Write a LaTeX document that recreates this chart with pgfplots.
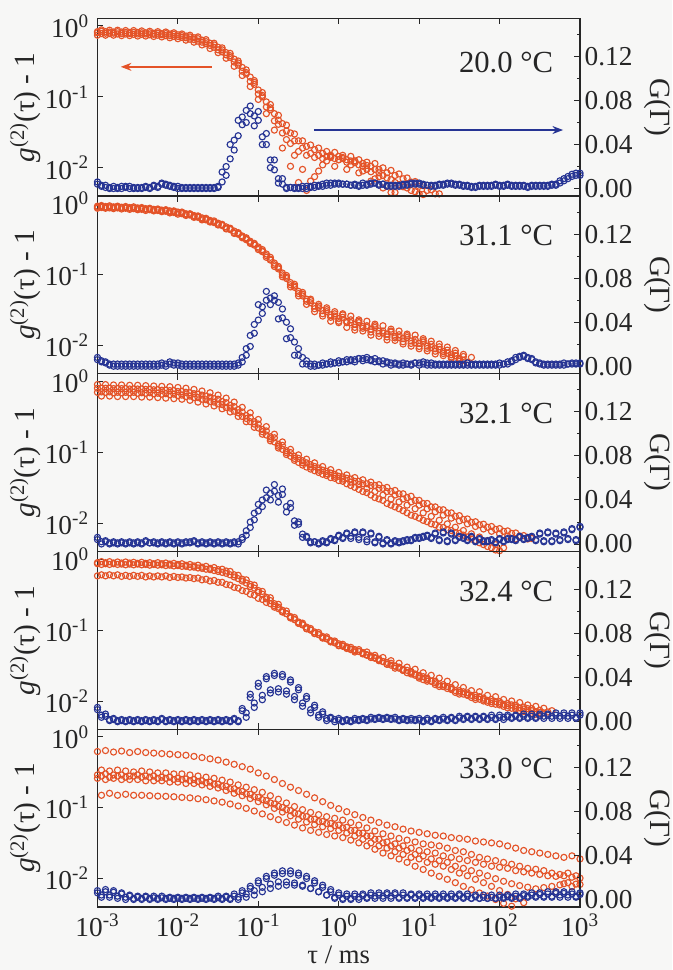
\documentclass[border=0pt]{standalone}
\usepackage{fontspec}
\setmainfont{Liberation Serif}
\usepackage{pgfplots}
\usepackage{pgfplotstable}
\pgfplotsset{compat=1.18}
\usetikzlibrary{arrows.meta}
\definecolor{org}{RGB}{228,83,40}
\definecolor{nvy}{RGB}{38,52,148}
\definecolor{bgc}{RGB}{247,247,246}

\pgfplotstableread{
x xh a b c d p q
1e-3 1.122e-3 0.83 0.88 0.74 0.78 0.004 0.002
1.259e-3 1.413e-3 0.83 0.87 0.74 0.78 0.001 0.000
1.585e-3 1.778e-3 0.82 0.87 0.74 0.77 0.000 0.000
1.995e-3 2.239e-3 0.82 0.86 0.73 0.77 0.000 0.001
2.512e-3 2.818e-3 0.81 0.86 0.73 0.76 0.000 0.000
3.162e-3 3.548e-3 0.81 0.85 0.72 0.76 0.000 0.000
3.981e-3 4.467e-3 0.80 0.84 0.72 0.75 0.001 0.000
5.012e-3 5.623e-3 0.79 0.83 0.71 0.74 0.002 0.001
6.310e-3 7.079e-3 0.78 0.82 0.70 0.73 0.004 0.003
7.943e-3 8.913e-3 0.77 0.80 0.68 0.71 0.002 0.001
1e-2 1.122e-2 0.75 0.77 0.66 0.69 0.000 0.000
1.259e-2 1.413e-2 0.72 0.74 0.63 0.65 0.000 0.000
1.585e-2 1.778e-2 0.68 0.70 0.59 0.61 0.000 0.000
1.995e-2 2.239e-2 0.63 0.64 0.54 0.56 0.000 0.000
2.512e-2 2.818e-2 0.57 0.57 0.48 0.50 0.000 0.000
3.162e-2 3.548e-2 0.50 0.49 0.42 0.43 0.002 0.006
3.981e-2 4.467e-2 0.42 0.41 0.35 0.36 0.020 0.027
5.012e-2 5.623e-2 0.34 0.32 0.27 0.28 0.044 0.048
6.310e-2 7.079e-2 0.26 0.24 0.20 0.21 0.065 0.060
7.943e-2 8.913e-2 0.19 0.17 0.14 0.15 0.075 0.057
1e-1 1.122e-1 0.125 0.115 0.092 0.10 0.070 0.040
1.259e-1 1.413e-1 0.085 0.078 0.058 0.066 0.050 0.019
1.585e-1 1.778e-1 0.058 0.055 0.034 0.041 0.026 0.005
1.995e-1 2.239e-1 0.042 0.040 0.019 0.025 0.009 0.000
2.512e-1 2.818e-1 0.031 0.030 0.0105 0.015 0.001 0.000
3.162e-1 3.548e-1 0.024 0.024 0.0062 0.0095 0.000 0.000
3.981e-1 4.467e-1 0.020 0.021 0.0048 0.0065 0.000 0.001
5.012e-1 5.623e-1 0.018 0.019 0.0075 0.009 0.001 0.002
6.310e-1 7.079e-1 0.016 0.017 0.011 0.0125 0.002 0.003
7.943e-1 8.913e-1 0.015 0.0165 0.014 0.0105 0.003 0.004
1 1.122 0.0145 0.015 0.013 0.0135 0.004 0.004
1.259 1.413 0.013 0.0145 0.0095 0.011 0.004 0.003
1.585 1.778 0.0125 0.013 0.0125 0.0085 0.003 0.002
1.995 2.239 0.0115 0.012 0.009 0.0095 0.003 0.003
2.512 2.818 0.0105 0.0115 0.0065 0.007 0.004 0.005
3.162 3.548 0.0095 0.010 0.0075 0.0052 0.003 0.004
3.981 4.467 0.0085 0.0092 0.0055 0.0045 0.002 0.002
5.012 5.623 0.0078 0.0082 0.0045 nan 0.002 0.002
6.310 7.079 0.0070 0.0072 nan nan 0.003 0.003
7.943 8.913 0.0063 0.0064 nan nan 0.004 0.004
1e1 1.122e1 0.0055 0.0056 nan nan 0.005 0.003
1.259e1 1.413e1 0.0048 0.0049 nan nan 0.003 0.002
1.585e1 1.778e1 0.0043 0.0043 nan nan 0.002 0.003
1.995e1 2.239e1 nan nan nan nan 0.003 0.004
2.512e1 2.818e1 nan nan nan nan 0.004 0.003
3.162e1 3.548e1 nan nan nan nan 0.003 0.002
3.981e1 4.467e1 nan nan nan nan 0.002 0.001
5.012e1 5.623e1 nan nan nan nan 0.001 0.002
6.310e1 7.079e1 nan nan nan nan 0.002 0.002
7.943e1 8.913e1 nan nan nan nan 0.002 0.003
1e2 1.122e2 nan nan nan nan 0.002 0.002
1.259e2 1.413e2 nan nan nan nan 0.003 0.002
1.585e2 1.778e2 nan nan nan nan 0.002 0.002
1.995e2 2.239e2 nan nan nan nan 0.002 0.001
2.512e2 2.818e2 nan nan nan nan 0.002 0.002
3.162e2 3.548e2 nan nan nan nan 0.002 0.002
3.981e2 4.467e2 nan nan nan nan 0.002 0.003
5.012e2 5.623e2 nan nan nan nan 0.003 0.005
6.310e2 7.079e2 nan nan nan nan 0.007 0.009
7.943e2 8.913e2 nan nan nan nan 0.011 0.012
1e3 nan nan nan nan nan 0.012 nan
}\tA

\pgfplotstableread{
x xh e f r s
1e-3 1.122e-3 0.80 0.84 0.006 0.003
1.259e-3 1.413e-3 0.79 0.82 0.003 0.001
1.585e-3 1.778e-3 0.79 0.83 0.002 0.001
1.995e-3 2.239e-3 0.78 0.81 0.002 0.002
2.512e-3 2.818e-3 0.78 0.81 0.002 0.001
3.162e-3 3.548e-3 0.77 0.80 0.001 0.001
3.981e-3 4.467e-3 0.77 0.80 0.002 0.001
5.012e-3 5.623e-3 0.76 0.79 0.003 0.002
6.310e-3 7.079e-3 0.75 0.78 0.005 0.004
7.943e-3 8.913e-3 0.73 0.76 0.003 0.002
1e-2 1.122e-2 0.71 0.73 0.002 0.001
1.259e-2 1.413e-2 0.68 0.70 0.001 0.001
1.585e-2 1.778e-2 0.64 0.66 0.001 0.001
1.995e-2 2.239e-2 0.59 0.60 0.001 0.001
2.512e-2 2.818e-2 0.53 0.54 0.001 0.001
3.162e-2 3.548e-2 0.46 0.46 0.001 0.015
3.981e-2 4.467e-2 0.39 0.38 0.012 0.040
5.012e-2 5.623e-2 0.31 0.30 0.035 0.062
6.310e-2 7.079e-2 0.23 0.22 0.058 0.071
7.943e-2 8.913e-2 0.165 0.16 0.068 0.066
1e-1 1.122e-1 0.11 0.105 0.062 0.047
1.259e-1 1.413e-1 0.072 0.070 0.040 0.026
1.585e-1 1.778e-1 0.046 0.047 0.017 0.009
1.995e-1 2.239e-1 0.031 0.033 0.004 0.001
2.512e-1 2.818e-1 0.022 0.024 0.001 0.001
3.162e-1 3.548e-1 0.017 0.019 0.001 0.002
3.981e-1 4.467e-1 0.015 0.016 0.002 0.002
5.012e-1 5.623e-1 0.014 0.015 0.003 0.003
6.310e-1 7.079e-1 0.0135 0.0145 0.004 0.005
7.943e-1 8.913e-1 0.0145 0.0135 0.005 0.005
1 1.122 0.013 0.014 0.005 0.004
1.259 1.413 0.012 0.0125 0.004 0.003
1.585 1.778 0.0118 0.011 0.004 0.003
1.995 2.239 0.0105 0.0108 0.005 0.004
2.512 2.818 0.0088 0.0095 0.005 0.005
3.162 3.548 0.0085 0.0078 0.004 0.004
3.981 4.467 0.0072 0.0068 0.003 0.003
5.012 5.623 0.0062 0.0058 0.003 0.003
6.310 7.079 0.0054 0.0052 0.004 0.004
7.943 8.913 0.0048 0.0046 0.005 0.005
1e1 1.122e1 0.0043 0.0042 0.004 0.004
1.259e1 1.413e1 nan nan 0.003 0.003
1.585e1 1.778e1 nan nan 0.003 0.004
1.995e1 2.239e1 nan nan 0.004 0.005
2.512e1 2.818e1 nan nan 0.005 0.004
3.162e1 3.548e1 nan nan 0.004 0.003
3.981e1 4.467e1 nan nan 0.003 0.002
5.012e1 5.623e1 nan nan 0.002 0.003
6.310e1 7.079e1 nan nan 0.003 0.003
7.943e1 8.913e1 nan nan 0.003 0.004
1e2 1.122e2 nan nan 0.003 0.003
1.259e2 1.413e2 nan nan 0.004 0.003
1.585e2 1.778e2 nan nan 0.003 0.003
1.995e2 2.239e2 nan nan 0.003 0.002
2.512e2 2.818e2 nan nan 0.003 0.003
3.162e2 3.548e2 nan nan 0.003 0.003
3.981e2 4.467e2 nan nan 0.003 0.004
5.012e2 5.623e2 nan nan 0.004 0.007
6.310e2 7.079e2 nan nan 0.009 0.011
7.943e2 8.913e2 nan nan 0.013 0.014
1e3 nan nan nan 0.014 nan
}\tAx

\pgfplotstableread{
x xh a b c d p q
1e-3 1.122e-3 0.92 0.88 0.86 0.94 0.006 0.004
1.259e-3 1.413e-3 0.91 0.87 0.86 0.93 0.003 0.001
1.585e-3 1.778e-3 0.90 0.87 0.85 0.92 0.000 0.000
1.995e-3 2.239e-3 0.89 0.86 0.84 0.91 0.000 0.000
2.512e-3 2.818e-3 0.88 0.85 0.83 0.90 0.000 0.000
3.162e-3 3.548e-3 0.87 0.83 0.82 0.88 0.000 0.000
3.981e-3 4.467e-3 0.85 0.82 0.80 0.86 0.000 0.000
5.012e-3 5.623e-3 0.83 0.80 0.79 0.84 0.000 0.000
6.310e-3 7.079e-3 0.81 0.78 0.77 0.82 0.001 0.000
7.943e-3 8.913e-3 0.79 0.75 0.74 0.79 0.002 0.001
1e-2 1.122e-2 0.76 0.72 0.71 0.76 0.001 0.000
1.259e-2 1.413e-2 0.72 0.69 0.68 0.72 0.000 0.000
1.585e-2 1.778e-2 0.68 0.64 0.64 0.67 0.000 0.000
1.995e-2 2.239e-2 0.63 0.59 0.59 0.62 0.000 0.000
2.512e-2 2.818e-2 0.58 0.54 0.55 0.57 0.000 0.000
3.162e-2 3.548e-2 0.53 0.49 0.50 0.51 0.000 0.000
3.981e-2 4.467e-2 0.47 0.43 0.44 0.45 0.000 0.000
5.012e-2 5.623e-2 0.41 0.37 0.38 0.39 0.000 0.003
6.310e-2 7.079e-2 0.35 0.31 0.33 0.33 0.008 0.016
7.943e-2 8.913e-2 0.295 0.26 0.275 0.275 0.028 0.038
1e-1 1.122e-1 0.245 0.21 0.225 0.225 0.056 0.054
1.259e-1 1.413e-1 0.195 0.16 0.175 0.175 0.068 0.056
1.585e-1 1.778e-1 0.145 0.12 0.13 0.13 0.060 0.043
1.995e-1 2.239e-1 0.105 0.088 0.093 0.097 0.044 0.025
2.512e-1 2.818e-1 0.077 0.066 0.067 0.073 0.026 0.010
3.162e-1 3.548e-1 0.058 0.050 0.050 0.056 0.010 0.002
3.981e-1 4.467e-1 0.045 0.040 0.038 0.045 0.002 0.000
5.012e-1 5.623e-1 0.036 0.034 0.030 0.038 0.000 0.001
6.310e-1 7.079e-1 0.031 0.030 0.026 0.034 0.001 0.002
7.943e-1 8.913e-1 0.027 0.026 0.022 0.030 0.002 0.003
1 1.122 0.024 0.025 0.021 0.028 0.003 0.004
1.259 1.413 0.022 0.021 0.018 0.026 0.004 0.006
1.585 1.778 0.020 0.021 0.0165 0.023 0.004 0.007
1.995 2.239 0.0185 0.018 0.016 0.022 0.005 0.006
2.512 2.818 0.017 0.018 0.014 0.020 0.005 0.004
3.162 3.548 0.016 0.015 0.0135 0.019 0.004 0.002
3.981 4.467 0.0145 0.0155 0.012 0.017 0.003 0.001
5.012 5.623 0.0135 0.013 0.0118 0.016 0.002 0.001
6.310 7.079 0.0125 0.013 0.0105 0.0145 0.001 0.002
7.943 8.913 0.0116 0.011 0.0098 0.014 0.001 0.003
1e1 1.122e1 0.0107 0.0112 0.009 0.0125 0.001 0.002
1.259e1 1.413e1 0.0098 0.0094 0.0084 0.0115 0.001 0.001
1.585e1 1.778e1 0.009 0.0088 0.0076 0.0105 0.001 0.001
1.995e1 2.239e1 0.0082 0.0078 0.0072 0.0095 0.001 0.001
2.512e1 2.818e1 0.0074 0.0072 0.0066 0.0085 0.001 0.001
3.162e1 3.548e1 0.0066 0.0062 0.006 0.0075 0.001 0.001
3.981e1 4.467e1 0.0058 nan nan 0.0068 0.001 0.001
5.012e1 5.623e1 nan nan nan nan 0.001 0.001
6.310e1 7.079e1 nan nan nan nan 0.001 0.001
7.943e1 8.913e1 nan nan nan nan 0.001 0.001
1e2 1.122e2 nan nan nan nan 0.001 0.002
1.259e2 1.413e2 nan nan nan nan 0.002 0.004
1.585e2 1.778e2 nan nan nan nan 0.006 0.008
1.995e2 2.239e2 nan nan nan nan 0.009 0.007
2.512e2 2.818e2 nan nan nan nan 0.006 0.003
3.162e2 3.548e2 nan nan nan nan 0.002 0.001
3.981e2 4.467e2 nan nan nan nan 0.001 0.001
5.012e2 5.623e2 nan nan nan nan 0.001 0.001
6.310e2 7.079e2 nan nan nan nan 0.001 0.002
7.943e2 8.913e2 nan nan nan nan 0.002 0.002
1e3 nan nan nan nan nan 0.002 nan
}\tB

\pgfplotstableread{
x xh e f r s
1e-3 1.122e-3 0.89 0.91 0.008 0.005
1.259e-3 1.413e-3 0.88 0.90 0.004 0.002
1.585e-3 1.778e-3 0.88 0.89 0.002 0.002
1.995e-3 2.239e-3 0.87 0.88 0.002 0.002
2.512e-3 2.818e-3 0.86 0.87 0.002 0.002
3.162e-3 3.548e-3 0.85 0.86 0.002 0.002
3.981e-3 4.467e-3 0.83 0.84 0.002 0.002
5.012e-3 5.623e-3 0.81 0.82 0.002 0.002
6.310e-3 7.079e-3 0.79 0.80 0.003 0.002
7.943e-3 8.913e-3 0.77 0.77 0.004 0.003
1e-2 1.122e-2 0.74 0.74 0.003 0.002
1.259e-2 1.413e-2 0.70 0.70 0.002 0.002
1.585e-2 1.778e-2 0.66 0.66 0.002 0.002
1.995e-2 2.239e-2 0.61 0.60 0.002 0.002
2.512e-2 2.818e-2 0.56 0.55 0.002 0.002
3.162e-2 3.548e-2 0.51 0.50 0.002 0.002
3.981e-2 4.467e-2 0.45 0.44 0.002 0.002
5.012e-2 5.623e-2 0.39 0.38 0.002 0.001
6.310e-2 7.079e-2 0.34 0.32 0.004 0.010
7.943e-2 8.913e-2 0.285 0.27 0.018 0.030
1e-1 1.122e-1 0.235 0.215 0.042 0.048
1.259e-1 1.413e-1 0.185 0.165 0.060 0.062
1.585e-1 1.778e-1 0.137 0.125 0.064 0.058
1.995e-1 2.239e-1 0.099 0.092 0.052 0.040
2.512e-1 2.818e-1 0.072 0.069 0.034 0.022
3.162e-1 3.548e-1 0.054 0.053 0.016 0.008
3.981e-1 4.467e-1 0.042 0.043 0.005 0.002
5.012e-1 5.623e-1 0.033 0.036 0.002 0.001
6.310e-1 7.079e-1 0.028 0.032 0.003 0.002
7.943e-1 8.913e-1 0.025 0.028 0.004 0.003
1 1.122 0.022 0.027 0.005 0.004
1.259 1.413 0.021 0.023 0.006 0.005
1.585 1.778 0.018 0.022 0.006 0.007
1.995 2.239 0.0175 0.019 0.007 0.008
2.512 2.818 0.0155 0.019 0.006 0.007
3.162 3.548 0.0148 0.016 0.005 0.005
3.981 4.467 0.0132 0.016 0.004 0.003
5.012 5.623 0.0128 0.0142 0.003 0.002
6.310 7.079 0.0113 0.0138 0.003 0.002
7.943 8.913 0.0107 0.0122 0.002 0.003
1e1 1.122e1 0.0097 0.0118 0.003 0.004
1.259e1 1.413e1 0.0091 0.0104 0.003 0.003
1.585e1 1.778e1 0.0083 0.0096 0.002 0.002
1.995e1 2.239e1 0.0077 0.0086 0.002 0.002
2.512e1 2.818e1 0.0069 0.0078 0.002 0.002
3.162e1 3.548e1 0.0063 0.0070 0.002 0.002
3.981e1 4.467e1 nan nan 0.003 0.002
5.012e1 5.623e1 nan nan 0.002 0.002
6.310e1 7.079e1 nan nan 0.002 0.002
7.943e1 8.913e1 nan nan 0.002 0.002
1e2 1.122e2 nan nan 0.003 0.002
1.259e2 1.413e2 nan nan 0.004 0.005
1.585e2 1.778e2 nan nan 0.008 0.009
1.995e2 2.239e2 nan nan 0.010 0.008
2.512e2 2.818e2 nan nan 0.007 0.004
3.162e2 3.548e2 nan nan 0.003 0.002
3.981e2 4.467e2 nan nan 0.002 0.002
5.012e2 5.623e2 nan nan 0.002 0.002
6.310e2 7.079e2 nan nan 0.003 0.002
7.943e2 8.913e2 nan nan 0.003 0.003
1e3 nan nan nan 0.003 nan
}\tBx

\pgfplotstableread{
x xh a b c d p q
1e-3 1.122e-3 0.90 0.80 0.70 0.62 0.006 0.002
1.259e-3 1.413e-3 0.90 0.80 0.70 0.62 0.003 0.001
1.585e-3 1.778e-3 0.89 0.79 0.69 0.61 0.001 0.001
1.995e-3 2.239e-3 0.89 0.79 0.69 0.61 0.001 0.001
2.512e-3 2.818e-3 0.88 0.78 0.69 0.61 0.001 0.001
3.162e-3 3.548e-3 0.88 0.78 0.68 0.60 0.001 0.001
3.981e-3 4.467e-3 0.87 0.77 0.68 0.60 0.002 0.001
5.012e-3 5.623e-3 0.86 0.76 0.67 0.59 0.001 0.001
6.310e-3 7.079e-3 0.85 0.75 0.66 0.58 0.001 0.001
7.943e-3 8.913e-3 0.84 0.74 0.65 0.57 0.001 0.001
1e-2 1.122e-2 0.82 0.72 0.63 0.56 0.001 0.001
1.259e-2 1.413e-2 0.80 0.69 0.61 0.54 0.001 0.002
1.585e-2 1.778e-2 0.77 0.66 0.59 0.51 0.002 0.001
1.995e-2 2.239e-2 0.73 0.62 0.56 0.48 0.001 0.001
2.512e-2 2.818e-2 0.69 0.57 0.52 0.45 0.001 0.001
3.162e-2 3.548e-2 0.64 0.52 0.48 0.41 0.001 0.001
3.981e-2 4.467e-2 0.58 0.46 0.43 0.37 0.001 0.001
5.012e-2 5.623e-2 0.51 0.40 0.38 0.32 0.001 0.002
6.310e-2 7.079e-2 0.43 0.33 0.32 0.27 0.006 0.012
7.943e-2 8.913e-2 0.36 0.27 0.27 0.225 0.020 0.028
1e-1 1.122e-1 0.29 0.21 0.22 0.18 0.036 0.040
1.259e-1 1.413e-1 0.23 0.165 0.175 0.145 0.049 0.046
1.585e-1 1.778e-1 0.18 0.13 0.14 0.115 0.054 0.044
1.995e-1 2.239e-1 0.14 0.105 0.11 0.093 0.050 0.034
2.512e-1 2.818e-1 0.11 0.088 0.088 0.077 0.037 0.021
3.162e-1 3.548e-1 0.092 0.076 0.072 0.066 0.020 0.009
3.981e-1 4.467e-1 0.080 0.067 0.062 0.058 0.007 0.002
5.012e-1 5.623e-1 0.071 0.060 0.055 0.052 0.002 0.001
6.310e-1 7.079e-1 0.063 0.054 0.049 0.047 0.002 0.002
7.943e-1 8.913e-1 0.057 0.049 0.044 0.043 0.004 0.004
1 1.122 0.052 0.045 0.040 0.039 0.007 0.006
1.259 1.413 0.048 0.042 0.036 0.034 0.009 0.007
1.585 1.778 0.044 0.039 0.032 0.030 0.010 0.006
1.995 2.239 0.041 0.036 0.028 0.027 0.010 0.004
2.512 2.818 0.038 0.034 0.025 0.023 0.009 0.002
3.162 3.548 0.035 0.031 0.022 0.021 0.006 0.001
3.981 4.467 0.032 0.028 0.019 0.018 0.003 0.001
5.012 5.623 0.029 0.026 0.017 0.016 0.002 0.002
6.310 7.079 0.026 0.023 0.015 0.014 0.002 0.004
7.943 8.913 0.024 0.021 0.013 0.0125 0.003 0.006
1e1 1.122e1 0.021 0.019 0.0118 0.011 0.005 0.007
1.259e1 1.413e1 0.019 0.017 0.0105 0.0098 0.007 0.006
1.585e1 1.778e1 0.017 0.0155 0.0095 0.0088 0.009 0.004
1.995e1 2.239e1 0.0155 0.014 0.0087 0.0081 0.010 0.003
2.512e1 2.818e1 0.014 0.0125 0.0079 0.0074 0.009 0.004
3.162e1 3.548e1 0.0128 0.0113 0.0072 0.0068 0.006 0.006
3.981e1 4.467e1 0.0115 0.0103 0.0064 0.006 0.003 0.007
5.012e1 5.623e1 0.0105 0.0095 0.0057 0.0053 0.002 0.005
6.310e1 7.079e1 0.0097 0.0088 0.005 0.0047 0.002 0.003
7.943e1 8.913e1 0.009 0.0082 0.0045 0.0042 0.003 0.002
1e2 1.122e2 0.0084 0.0077 0.0041 nan 0.004 0.003
1.259e2 1.413e2 0.0078 0.0072 nan nan 0.004 0.005
1.585e2 1.778e2 0.0073 0.0066 nan nan 0.003 0.007
1.995e2 2.239e2 0.0067 0.0060 nan nan 0.004 0.006
2.512e2 2.818e2 0.0061 nan nan nan 0.006 0.004
3.162e2 3.548e2 nan nan nan nan 0.009 0.003
3.981e2 4.467e2 nan nan nan nan 0.010 0.003
5.012e2 5.623e2 nan nan nan nan 0.009 0.004
6.310e2 7.079e2 nan nan nan nan 0.010 0.005
7.943e2 8.913e2 nan nan nan nan 0.013 0.004
1e3 nan nan nan nan nan 0.015 nan
}\tC

\pgfplotstableread{
x xh e f r s
1e-3 1.122e-3 0.80 0.71 0.004 0.000
1.259e-3 1.413e-3 0.80 0.71 0.002 0.000
1.585e-3 1.778e-3 0.79 0.70 0.002 0.000
1.995e-3 2.239e-3 0.79 0.70 0.002 0.000
2.512e-3 2.818e-3 0.78 0.70 0.002 0.000
3.162e-3 3.548e-3 0.78 0.69 0.002 0.000
3.981e-3 4.467e-3 0.77 0.69 0.003 0.001
5.012e-3 5.623e-3 0.76 0.68 0.002 0.000
6.310e-3 7.079e-3 0.75 0.67 0.002 0.000
7.943e-3 8.913e-3 0.74 0.66 0.002 0.000
1e-2 1.122e-2 0.72 0.64 0.002 0.000
1.259e-2 1.413e-2 0.70 0.62 0.002 0.001
1.585e-2 1.778e-2 0.67 0.59 0.003 0.000
1.995e-2 2.239e-2 0.64 0.55 0.002 0.000
2.512e-2 2.818e-2 0.60 0.51 0.002 0.000
3.162e-2 3.548e-2 0.56 0.47 0.002 0.000
3.981e-2 4.467e-2 0.50 0.42 0.002 0.000
5.012e-2 5.623e-2 0.44 0.36 0.002 0.000
6.310e-2 7.079e-2 0.37 0.30 0.004 0.008
7.943e-2 8.913e-2 0.31 0.25 0.015 0.022
1e-1 1.122e-1 0.25 0.195 0.030 0.034
1.259e-1 1.413e-1 0.20 0.155 0.042 0.040
1.585e-1 1.778e-1 0.16 0.122 0.048 0.038
1.995e-1 2.239e-1 0.125 0.099 0.045 0.029
2.512e-1 2.818e-1 0.099 0.082 0.033 0.017
3.162e-1 3.548e-1 0.082 0.071 0.018 0.006
3.981e-1 4.467e-1 0.071 0.062 0.006 0.001
5.012e-1 5.623e-1 0.063 0.056 0.002 0.000
6.310e-1 7.079e-1 0.056 0.050 0.003 0.001
7.943e-1 8.913e-1 0.051 0.046 0.005 0.003
1 1.122 0.046 0.042 0.008 0.005
1.259 1.413 0.043 0.038 0.010 0.005
1.585 1.778 0.039 0.035 0.011 0.004
1.995 2.239 0.036 0.031 0.011 0.002
2.512 2.818 0.034 0.028 0.010 0.001
3.162 3.548 0.031 0.025 0.007 0.000
3.981 4.467 0.028 0.022 0.004 0.000
5.012 5.623 0.025 0.020 0.003 0.001
6.310 7.079 0.022 0.018 0.003 0.003
7.943 8.913 0.020 0.016 0.004 0.005
1e1 1.122e1 0.018 0.014 0.006 0.006
1.259e1 1.413e1 0.016 0.0125 0.008 0.005
1.585e1 1.778e1 0.0145 0.011 0.010 0.003
1.995e1 2.239e1 0.013 0.0098 0.011 0.002
2.512e1 2.818e1 0.0118 0.0088 0.010 0.003
3.162e1 3.548e1 0.0108 0.0079 0.007 0.005
3.981e1 4.467e1 0.0098 0.0071 0.004 0.006
5.012e1 5.623e1 0.009 0.0064 0.003 0.004
6.310e1 7.079e1 0.0083 0.0057 0.003 0.002
7.943e1 8.913e1 0.0077 0.005 0.004 0.001
1e2 1.122e2 0.0071 0.0045 0.005 0.002
1.259e2 1.413e2 0.0066 nan 0.005 0.004
1.585e2 1.778e2 0.006 nan 0.004 0.006
1.995e2 2.239e2 nan nan 0.005 0.005
2.512e2 2.818e2 nan nan 0.007 0.003
3.162e2 3.548e2 nan nan 0.010 0.002
3.981e2 4.467e2 nan nan 0.011 0.002
5.012e2 5.623e2 nan nan 0.010 0.003
6.310e2 7.079e2 nan nan 0.011 0.004
7.943e2 8.913e2 nan nan 0.014 0.003
1e3 nan nan nan 0.016 nan
}\tCx

\pgfplotstableread{
x xh a b c d p q
1e-3 1.122e-3 0.89 0.84 0.58 0.92 0.011 0.006
1.259e-3 1.413e-3 0.89 0.84 0.58 0.92 0.005 0.002
1.585e-3 1.778e-3 0.88 0.84 0.58 0.91 0.002 0.001
1.995e-3 2.239e-3 0.88 0.83 0.57 0.91 0.001 0.001
2.512e-3 2.818e-3 0.88 0.83 0.57 0.90 0.001 0.001
3.162e-3 3.548e-3 0.87 0.83 0.57 0.90 0.001 0.001
3.981e-3 4.467e-3 0.87 0.82 0.56 0.89 0.001 0.001
5.012e-3 5.623e-3 0.86 0.82 0.56 0.89 0.001 0.001
6.310e-3 7.079e-3 0.86 0.81 0.56 0.88 0.002 0.001
7.943e-3 8.913e-3 0.85 0.80 0.55 0.87 0.001 0.001
1e-2 1.122e-2 0.84 0.79 0.55 0.86 0.001 0.001
1.259e-2 1.413e-2 0.82 0.77 0.54 0.84 0.001 0.001
1.585e-2 1.778e-2 0.80 0.75 0.53 0.82 0.001 0.001
1.995e-2 2.239e-2 0.77 0.72 0.51 0.79 0.001 0.001
2.512e-2 2.818e-2 0.74 0.69 0.49 0.76 0.001 0.001
3.162e-2 3.548e-2 0.71 0.65 0.47 0.72 0.001 0.001
3.981e-2 4.467e-2 0.68 0.60 0.44 0.67 0.001 0.001
5.012e-2 5.623e-2 0.60 0.53 0.40 0.59 0.002 0.001
6.310e-2 7.079e-2 0.52 0.46 0.36 0.51 0.010 0.008
7.943e-2 8.913e-2 0.44 0.39 0.32 0.43 0.022 0.017
1e-1 1.122e-1 0.36 0.32 0.28 0.35 0.032 0.024
1.259e-1 1.413e-1 0.29 0.26 0.245 0.285 0.039 0.029
1.585e-1 1.778e-1 0.235 0.21 0.21 0.23 0.042 0.030
1.995e-1 2.239e-1 0.19 0.17 0.18 0.185 0.041 0.028
2.512e-1 2.818e-1 0.155 0.14 0.15 0.15 0.036 0.023
3.162e-1 3.548e-1 0.13 0.118 0.125 0.125 0.029 0.017
3.981e-1 4.467e-1 0.11 0.10 0.105 0.105 0.021 0.011
5.012e-1 5.623e-1 0.094 0.086 0.090 0.092 0.013 0.006
6.310e-1 7.079e-1 0.081 0.076 0.078 0.080 0.007 0.003
7.943e-1 8.913e-1 0.071 0.067 0.069 0.070 0.003 0.002
1 1.122 0.064 0.060 0.061 0.063 0.0015 0.001
1.259 1.413 0.058 0.054 0.056 0.057 0.001 0.001
1.585 1.778 0.053 0.050 0.051 0.053 0.0015 0.002
1.995 2.239 0.048 0.045 0.047 0.049 0.002 0.002
2.512 2.818 0.043 0.041 0.043 0.044 0.0025 0.003
3.162 3.548 0.039 0.036 0.038 0.041 0.003 0.003
3.981 4.467 0.035 0.034 0.033 0.037 0.003 0.003
5.012 5.623 0.031 0.029 0.031 0.034 0.0025 0.002
6.310 7.079 0.028 0.027 0.027 0.030 0.002 0.002
7.943 8.913 0.026 0.023 0.025 0.028 0.0015 0.002
1e1 1.122e1 0.023 0.022 0.021 0.025 0.0015 0.001
1.259e1 1.413e1 0.021 0.019 0.020 0.023 0.0015 0.001
1.585e1 1.778e1 0.019 0.017 0.017 0.021 0.002 0.002
1.995e1 2.239e1 0.017 0.016 0.016 0.019 0.0025 0.002
2.512e1 2.818e1 0.0155 0.014 0.0145 0.017 0.003 0.002
3.162e1 3.548e1 0.014 0.0135 0.0125 0.0155 0.0035 0.003
3.981e1 4.467e1 0.013 0.012 0.012 0.014 0.004 0.003
5.012e1 5.623e1 0.012 0.0115 0.0105 0.0135 0.004 0.003
6.310e1 7.079e1 0.011 0.0102 0.0100 0.012 0.004 0.003
7.943e1 8.913e1 0.0105 0.0098 0.0092 0.0115 0.004 0.003
1e2 1.122e2 0.0098 0.0090 0.0088 0.0105 0.004 0.004
1.259e2 1.413e2 0.0092 0.0088 0.0080 0.010 0.0045 0.004
1.585e2 1.778e2 0.0087 0.0080 0.0077 0.0095 0.005 0.004
1.995e2 2.239e2 0.0082 0.0078 0.0071 0.0088 0.005 0.004
2.512e2 2.818e2 0.0078 0.0071 0.0067 0.0084 0.005 0.004
3.162e2 3.548e2 0.0074 0.0068 0.0062 0.0079 0.0055 0.005
3.981e2 4.467e2 0.0070 nan nan 0.0073 0.006 0.005
5.012e2 5.623e2 nan nan nan nan 0.006 0.005
6.310e2 7.079e2 nan nan nan nan 0.006 0.005
7.943e2 8.913e2 nan nan nan nan 0.006 0.004
1e3 nan nan nan nan nan 0.006 nan
}\tD

\pgfplotstableread{
x xh e f r s
1e-3 1.122e-3 0.86 0.60 0.013 0.004
1.259e-3 1.413e-3 0.86 0.60 0.007 0.001
1.585e-3 1.778e-3 0.86 0.60 0.003 0.000
1.995e-3 2.239e-3 0.85 0.59 0.002 0.000
2.512e-3 2.818e-3 0.85 0.59 0.002 0.000
3.162e-3 3.548e-3 0.85 0.59 0.002 0.000
3.981e-3 4.467e-3 0.84 0.58 0.002 0.000
5.012e-3 5.623e-3 0.84 0.58 0.002 0.000
6.310e-3 7.079e-3 0.83 0.58 0.003 0.000
7.943e-3 8.913e-3 0.82 0.57 0.002 0.000
1e-2 1.122e-2 0.81 0.56 0.002 0.000
1.259e-2 1.413e-2 0.79 0.55 0.002 0.000
1.585e-2 1.778e-2 0.77 0.54 0.002 0.000
1.995e-2 2.239e-2 0.74 0.52 0.002 0.000
2.512e-2 2.818e-2 0.71 0.50 0.002 0.000
3.162e-2 3.548e-2 0.67 0.47 0.002 0.000
3.981e-2 4.467e-2 0.63 0.43 0.002 0.000
5.012e-2 5.623e-2 0.56 0.39 0.003 0.000
6.310e-2 7.079e-2 0.49 0.35 0.012 0.004
7.943e-2 8.913e-2 0.41 0.31 0.025 0.013
1e-1 1.122e-1 0.34 0.27 0.035 0.020
1.259e-1 1.413e-1 0.275 0.235 0.041 0.026
1.585e-1 1.778e-1 0.22 0.20 0.044 0.027
1.995e-1 2.239e-1 0.18 0.17 0.043 0.025
2.512e-1 2.818e-1 0.148 0.142 0.038 0.020
3.162e-1 3.548e-1 0.124 0.12 0.031 0.014
3.981e-1 4.467e-1 0.104 0.10 0.023 0.008
5.012e-1 5.623e-1 0.089 0.087 0.015 0.004
6.310e-1 7.079e-1 0.077 0.075 0.009 0.001
7.943e-1 8.913e-1 0.068 0.066 0.004 0.000
1 1.122 0.060 0.059 0.003 0.000
1.259 1.413 0.055 0.053 0.002 0.000
1.585 1.778 0.049 0.050 0.003 0.001
1.995 2.239 0.046 0.044 0.003 0.001
2.512 2.818 0.041 0.040 0.004 0.002
3.162 3.548 0.037 0.036 0.004 0.002
3.981 4.467 0.033 0.032 0.004 0.002
5.012 5.623 0.029 0.030 0.004 0.001
6.310 7.079 0.027 0.025 0.003 0.001
7.943 8.913 0.024 0.024 0.003 0.001
1e1 1.122e1 0.022 0.020 0.003 0.000
1.259e1 1.413e1 0.019 0.019 0.003 0.000
1.585e1 1.778e1 0.018 0.016 0.003 0.001
1.995e1 2.239e1 0.016 0.015 0.004 0.001
2.512e1 2.818e1 0.0148 0.0132 0.004 0.001
3.162e1 3.548e1 0.0133 0.0125 0.005 0.002
3.981e1 4.467e1 0.0122 0.0112 0.005 0.002
5.012e1 5.623e1 0.0112 0.0106 0.005 0.002
6.310e1 7.079e1 0.0105 0.0096 0.005 0.002
7.943e1 8.913e1 0.0098 0.0090 0.006 0.002
1e2 1.122e2 0.0093 0.0084 0.006 0.002
1.259e2 1.413e2 0.0086 0.0079 0.006 0.003
1.585e2 1.778e2 0.0082 0.0073 0.006 0.003
1.995e2 2.239e2 0.0077 0.0069 0.007 0.003
2.512e2 2.818e2 0.0073 0.0065 0.007 0.003
3.162e2 3.548e2 0.0069 nan 0.007 0.003
3.981e2 4.467e2 nan nan 0.007 0.003
5.012e2 5.623e2 nan nan 0.008 0.003
6.310e2 7.079e2 nan nan 0.008 0.003
7.943e2 8.913e2 nan nan 0.008 0.003
1e3 nan nan nan 0.008 nan
}\tDx

\pgfplotstableread{
x xh a b c d p q
1e-3 1.122e-3 0.62 0.34 0.26 0.15 0.006 0.004
1.259e-3 1.413e-3 0.64 0.33 0.25 0.16 0.007 0.004
1.585e-3 1.778e-3 0.61 0.34 0.26 0.15 0.0065 0.003
1.995e-3 2.239e-3 0.63 0.33 0.25 0.155 0.005 0.002
2.512e-3 2.818e-3 0.60 0.32 0.25 0.15 0.003 0.001
3.162e-3 3.548e-3 0.62 0.33 0.25 0.15 0.002 0.001
3.981e-3 4.467e-3 0.60 0.32 0.24 0.148 0.002 0.001
5.012e-3 5.623e-3 0.59 0.31 0.24 0.146 0.0015 0.001
6.310e-3 7.079e-3 0.58 0.31 0.24 0.145 0.0015 0.001
7.943e-3 8.913e-3 0.57 0.30 0.23 0.143 0.001 0.001
1e-2 1.122e-2 0.56 0.30 0.23 0.14 0.001 0.001
1.259e-2 1.413e-2 0.55 0.29 0.22 0.138 0.001 0.001
1.585e-2 1.778e-2 0.53 0.28 0.22 0.134 0.001 0.001
1.995e-2 2.239e-2 0.51 0.27 0.21 0.13 0.001 0.001
2.512e-2 2.818e-2 0.49 0.26 0.20 0.125 0.0012 0.001
3.162e-2 3.548e-2 0.47 0.245 0.19 0.12 0.0015 0.001
3.981e-2 4.467e-2 0.44 0.23 0.175 0.113 0.002 0.001
5.012e-2 5.623e-2 0.41 0.21 0.16 0.106 0.003 0.002
6.310e-2 7.079e-2 0.38 0.195 0.148 0.098 0.006 0.005
7.943e-2 8.913e-2 0.35 0.18 0.135 0.090 0.010 0.008
1e-1 1.122e-1 0.31 0.165 0.122 0.082 0.015 0.011
1.259e-1 1.413e-1 0.28 0.148 0.110 0.075 0.019 0.014
1.585e-1 1.778e-1 0.25 0.132 0.098 0.068 0.022 0.016
1.995e-1 2.239e-1 0.22 0.117 0.087 0.062 0.0235 0.016
2.512e-1 2.818e-1 0.195 0.104 0.077 0.057 0.0235 0.015
3.162e-1 3.548e-1 0.175 0.094 0.069 0.052 0.022 0.013
3.981e-1 4.467e-1 0.155 0.086 0.063 0.048 0.019 0.010
5.012e-1 5.623e-1 0.138 0.080 0.058 0.045 0.015 0.007
6.310e-1 7.079e-1 0.122 0.075 0.054 0.042 0.011 0.004
7.943e-1 8.913e-1 0.108 0.071 0.051 0.040 0.007 0.002
1 1.122 0.097 0.067 0.048 0.038 0.004 0.001
1.259 1.413 0.088 0.062 0.044 0.035 0.003 0.001
1.585 1.778 0.080 0.057 0.040 0.032 0.003 0.002
1.995 2.239 0.073 0.052 0.036 0.029 0.0035 0.002
2.512 2.818 0.067 0.047 0.032 0.026 0.004 0.003
3.162 3.548 0.062 0.043 0.029 0.023 0.004 0.003
3.981 4.467 0.057 0.040 0.027 0.021 0.0045 0.003
5.012 5.623 0.054 0.037 0.024 0.019 0.0045 0.002
6.310 7.079 0.050 0.035 0.022 0.017 0.004 0.002
7.943 8.913 0.047 0.033 0.020 0.015 0.004 0.002
1e1 1.122e1 0.045 0.031 0.019 0.0135 0.0035 0.002
1.259e1 1.413e1 0.043 0.030 0.017 0.012 0.003 0.002
1.585e1 1.778e1 0.041 0.029 0.016 0.0108 0.003 0.002
1.995e1 2.239e1 0.040 0.027 0.015 0.0098 0.003 0.002
2.512e1 2.818e1 0.038 0.025 0.0135 0.0088 0.003 0.002
3.162e1 3.548e1 0.037 0.024 0.012 0.0078 0.0035 0.002
3.981e1 4.467e1 0.036 0.022 0.011 0.007 0.003 0.001
5.012e1 5.623e1 0.034 0.020 0.0098 0.0063 0.0025 0.001
6.310e1 7.079e1 0.033 0.019 0.0088 0.0057 0.002 0.001
7.943e1 8.913e1 0.032 0.018 0.0078 0.0051 0.002 0.001
1e2 1.122e2 0.031 0.017 0.0068 0.0045 0.002 0.002
1.259e2 1.413e2 0.029 0.016 0.006 0.0041 0.0025 0.002
1.585e2 1.778e2 0.027 0.015 0.0052 nan 0.003 0.002
1.995e2 2.239e2 0.025 0.014 0.0046 nan 0.0035 0.003
2.512e2 2.818e2 0.024 0.0136 nan nan 0.004 0.003
3.162e2 3.548e2 0.023 0.013 nan nan 0.0045 0.003
3.981e2 4.467e2 0.022 0.012 nan nan 0.005 0.003
5.012e2 5.623e2 0.021 0.0115 0.0065 nan 0.0055 0.004
6.310e2 7.079e2 0.020 0.012 0.0085 nan 0.0055 0.004
7.943e2 8.913e2 0.021 0.011 0.0078 nan 0.005 0.003
1e3 nan 0.019 nan 0.0083 nan 0.0045 nan
}\tE

\pgfplotstableread{
x xh e f r s
1e-3 1.122e-3 0.29 0.28 0.008 0.002
1.259e-3 1.413e-3 0.30 0.27 0.009 0.002
1.585e-3 1.778e-3 0.29 0.28 0.008 0.001
1.995e-3 2.239e-3 0.29 0.27 0.006 0.000
2.512e-3 2.818e-3 0.28 0.28 0.004 0.000
3.162e-3 3.548e-3 0.29 0.27 0.003 0.000
3.981e-3 4.467e-3 0.28 0.27 0.003 0.000
5.012e-3 5.623e-3 0.28 0.26 0.003 0.000
6.310e-3 7.079e-3 0.27 0.26 0.003 0.000
7.943e-3 8.913e-3 0.27 0.25 0.002 0.000
1e-2 1.122e-2 0.26 0.25 0.002 0.000
1.259e-2 1.413e-2 0.255 0.24 0.002 0.000
1.585e-2 1.778e-2 0.25 0.235 0.002 0.000
1.995e-2 2.239e-2 0.24 0.225 0.002 0.000
2.512e-2 2.818e-2 0.23 0.215 0.002 0.000
3.162e-2 3.548e-2 0.215 0.20 0.003 0.000
3.981e-2 4.467e-2 0.20 0.185 0.003 0.000
5.012e-2 5.623e-2 0.185 0.17 0.005 0.000
6.310e-2 7.079e-2 0.17 0.157 0.008 0.002
7.943e-2 8.913e-2 0.155 0.143 0.012 0.004
1e-1 1.122e-1 0.14 0.13 0.017 0.007
1.259e-1 1.413e-1 0.126 0.117 0.021 0.010
1.585e-1 1.778e-1 0.113 0.105 0.024 0.012
1.995e-1 2.239e-1 0.101 0.094 0.026 0.013
2.512e-1 2.818e-1 0.091 0.084 0.026 0.013
3.162e-1 3.548e-1 0.082 0.076 0.024 0.012
3.981e-1 4.467e-1 0.075 0.069 0.021 0.010
5.012e-1 5.623e-1 0.069 0.064 0.017 0.007
6.310e-1 7.079e-1 0.064 0.060 0.013 0.004
7.943e-1 8.913e-1 0.060 0.056 0.009 0.001
1 1.122 0.057 0.052 0.006 0.000
1.259 1.413 0.053 0.048 0.005 0.000
1.585 1.778 0.048 0.044 0.005 0.000
1.995 2.239 0.044 0.040 0.005 0.001
2.512 2.818 0.040 0.036 0.006 0.001
3.162 3.548 0.036 0.032 0.006 0.001
3.981 4.467 0.033 0.029 0.006 0.001
5.012 5.623 0.031 0.027 0.006 0.001
6.310 7.079 0.029 0.025 0.006 0.001
7.943 8.913 0.027 0.022 0.005 0.001
1e1 1.122e1 0.025 0.021 0.005 0.001
1.259e1 1.413e1 0.024 0.019 0.005 0.001
1.585e1 1.778e1 0.023 0.018 0.005 0.001
1.995e1 2.239e1 0.021 0.017 0.005 0.001
2.512e1 2.818e1 0.020 0.015 0.005 0.001
3.162e1 3.548e1 0.019 0.014 0.005 0.001
3.981e1 4.467e1 0.018 0.013 0.005 0.001
5.012e1 5.623e1 0.017 0.012 0.004 0.001
6.310e1 7.079e1 0.016 0.011 0.004 0.001
7.943e1 8.913e1 0.015 0.010 0.004 0.001
1e2 1.122e2 0.0145 0.0092 0.004 0.001
1.259e2 1.413e2 0.014 0.0085 0.004 0.001
1.585e2 1.778e2 0.013 0.0080 0.005 0.001
1.995e2 2.239e2 0.0125 0.0076 0.005 0.002
2.512e2 2.818e2 0.012 0.0072 0.006 0.002
3.162e2 3.548e2 0.0115 0.0075 0.006 0.002
3.981e2 4.467e2 0.011 0.0078 0.007 0.002
5.012e2 5.623e2 0.0108 0.0082 0.007 0.002
6.310e2 7.079e2 0.011 0.0088 0.007 0.002
7.943e2 8.913e2 0.0105 0.0084 0.007 0.002
1e3 nan 0.0102 nan 0.006 nan
}\tEx

\tikzset{
  dlsom/.style={only marks, mark=o, mark size=2.3pt, color=org, mark options={line width=0.85pt}},
  dlsbm/.style={only marks, mark=o, mark size=2.3pt, color=nvy, mark options={line width=0.85pt}},
  dlstl/.style={anchor=east, font=\fontsize{23}{27}\selectfont, text=black!85},
}

\newcommand{\oplots}[2]{%
  \addplot[dlsom] table[x=x,y=a]{#1};
  \addplot[dlsom] table[x=xh,y=b]{#1};
  \addplot[dlsom] table[x=x,y=c]{#1};
  \addplot[dlsom] table[x=xh,y=d]{#1};
  \addplot[dlsom] table[x=x,y=e]{#2};
  \addplot[dlsom] table[x=xh,y=f]{#2};}
\newcommand{\bplots}[2]{%
  \addplot[dlsbm] table[x=x,y=p]{#1};
  \addplot[dlsbm] table[x=xh,y=q]{#1};
  \addplot[dlsbm] table[x=x,y=r]{#2};
  \addplot[dlsbm] table[x=xh,y=s]{#2};}

\def\LOPTS{scale only axis, width=361.9pt, height=133.3pt, anchor=north west,
    xmode=log, ymode=log, xmin=1e-3, xmax=1e3, ymin=0.0040, ymax=1.28,
    xtick={1e-3,1e-2,1e-1,1,10,100,1000}, ytick={0.01,0.1,1},
    xminorticks=false, yminorticks=false,
    tick align=inside, major tick length=4.5pt,
    ytick pos=left, xtick pos=both,
    yticklabels={10\textsuperscript{-2},10\textsuperscript{-1},10\textsuperscript{0}},
    yticklabel style={xshift=-3pt},
    xticklabel style={yshift=-1.5pt},
    axis line style={line width=0.9pt, black!85},
    every tick/.append style={line width=0.7pt, black!85},
    tick label style={font=\fontsize{20.5}{24}\selectfont, text=black!85},
    label style={font=\fontsize{22}{26}\selectfont, text=black!85},
    ylabel={\textit{g}\textsuperscript{(2)}(τ) - 1},
    ylabel style={at={(axis description cs:-0.15,0.5)}, anchor=center}}
\def\ROPTS{scale only axis, width=361.9pt, height=133.3pt, anchor=north west,
    xmode=log, xmin=1e-3, xmax=1e3, xtick=\empty,
    axis y line*=right, axis x line=none,
    ymin=-0.0068, ymax=0.1547, ytick={0,0.04,0.08,0.12}, minor ytick={0.02,0.06,0.10,0.14},
    yticklabels={0.00,0.04,0.08,0.12},
    tick align=inside, major tick length=4.5pt, minor tick length=2.5pt,
    axis line style={line width=0.9pt, black!85},
    every tick/.append style={line width=0.7pt, black!85},
    tick label style={font=\fontsize{20.5}{24}\selectfont, text=black!85},
    label style={font=\fontsize{22}{26}\selectfont, text=black!85},
    ylabel={G(Γ)},
    ylabel style={at={(axis description cs:1.16,0.5)}, anchor=center, rotate=180}}

\newcommand{\LAX}[1]{\expandafter\LAXi\expandafter{\LOPTS,#1}}
\newcommand{\LAXi}[1]{\begin{axis}[#1]}
\newcommand{\RAX}[1]{\expandafter\RAXi\expandafter{\ROPTS,#1}}
\newcommand{\RAXi}[1]{\begin{axis}[#1]}

\begin{document}
\begin{tikzpicture}
\useasboundingbox (0,0) rectangle (504pt,-727.5pt);
\fill[bgc] (0,0) rectangle (504pt,-727.5pt);

% panel 1
\LAX{at={(73.1pt,-13.73pt)}, xticklabels={}}
\oplots{\tA}{\tAx}
\node[dlstl] at (rel axis cs:0.954,0.75) {20.0 °C};
\draw[color=org, line width=1pt, -{Stealth[length=8pt,width=6pt]}] (axis cs:0.0263,0.265) -- (axis cs:0.00195,0.265);
\draw[color=nvy, line width=1pt, -{Stealth[length=8pt,width=6pt]}] (axis cs:0.49,0.0341) -- (axis cs:616,0.0341);
\end{axis}
\RAX{at={(73.1pt,-13.73pt)}}
\bplots{\tA}{\tAx}
\end{axis}

% panel 2
\LAX{at={(73.1pt,-147.0pt)}, xticklabels={}}
\oplots{\tB}{\tBx}
\node[dlstl] at (rel axis cs:0.954,0.775) {31.1 °C};
\end{axis}
\RAX{at={(73.1pt,-147.0pt)}}
\bplots{\tB}{\tBx}
\end{axis}

% panel 3
\LAX{at={(73.1pt,-280.3pt)}, xticklabels={}}
\oplots{\tC}{\tCx}
\node[dlstl] at (rel axis cs:0.954,0.775) {32.1 °C};
\end{axis}
\RAX{at={(73.1pt,-280.3pt)}}
\bplots{\tC}{\tCx}
\end{axis}

% panel 4
\LAX{at={(73.1pt,-413.6pt)}, xticklabels={}}
\oplots{\tD}{\tDx}
\node[dlstl] at (rel axis cs:0.954,0.775) {32.4 °C};
\end{axis}
\RAX{at={(73.1pt,-413.6pt)}}
\bplots{\tD}{\tDx}
\end{axis}

% panel 5
\LAX{at={(73.1pt,-546.9pt)},
  xticklabels={10\textsuperscript{-3},10\textsuperscript{-2},10\textsuperscript{-1},10\textsuperscript{0},10\textsuperscript{1},10\textsuperscript{2},10\textsuperscript{3}},
  xlabel={τ / ms}, xlabel style={at={(axis description cs:0.5,-0.272)}, anchor=center, font=\fontsize{20}{22}\selectfont}}
\oplots{\tE}{\tEx}
\node[dlstl] at (rel axis cs:0.954,0.78) {33.0 °C};
\end{axis}
\RAX{at={(73.1pt,-546.9pt)}}
\bplots{\tE}{\tEx}
\end{axis}

\end{tikzpicture}
\end{document}
